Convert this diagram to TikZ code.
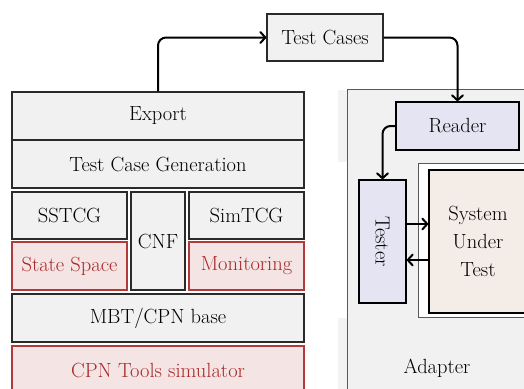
\documentclass[tikz,border=0pt]{standalone}
\usetikzlibrary{arrows.meta,positioning}
\definecolor{boxgray}{HTML}{F1F1F1}
\definecolor{boxline}{HTML}{2A2A2A}
\definecolor{redline}{HTML}{B23A3A}
\definecolor{redfill}{HTML}{F4E4E4}
\definecolor{redtext}{HTML}{A82828}
\definecolor{lav}{HTML}{E4E4F2}
\definecolor{sutfill}{HTML}{F4ECE6}
\definecolor{stripgray}{HTML}{F3F3F3}
\begin{document}
\begin{tikzpicture}[x=1pt,y=-1pt,
  font=\fontsize{20.5}{28}\selectfont,
  graybox/.style={draw=boxline,fill=boxgray,line width=1.3pt,rectangle,inner sep=0pt},
  redbox/.style={draw=redline,fill=redfill,text=redtext,line width=1.3pt,rectangle,inner sep=0pt},
  lavbox/.style={draw=black,fill=lav,line width=1.5pt,rectangle,inner sep=0pt},
  conn/.style={draw=black,line width=2pt,rounded corners=8pt,-{Straight Barb[length=5pt,width=11pt,round]}}
]
\useasboundingbox (0,0) rectangle (524,388);
% background strips
\fill[stripgray] (338,90) rectangle (347,162);
\fill[stripgray] (338,318) rectangle (347,392);
% Adapter
\node[draw=black!65,fill=boxgray,line width=0.8pt,minimum width=200pt,minimum height=320pt,inner sep=0pt] (adapter) at (447,249) {};
\node (adlabel) at (437,368) {Adapter};
% left stack
\node[graybox,minimum width=116pt,minimum height=47pt] (tc) at (325,37.5) {Test Cases};
\node[graybox,minimum width=292pt,minimum height=48pt] (export) at (158,116) {Export};
\node[graybox,minimum width=292pt,minimum height=48pt] (tcg) at (158,164) {Test Case Generation};
\node[graybox,minimum width=115pt,minimum height=47pt] (sstcg) at (69.5,215.5) {SSTCG};
\node[redbox,minimum width=115pt,minimum height=48pt] (ss) at (69.5,266) {State Space};
\node[graybox,minimum width=54pt,minimum height=98pt] (cnf) at (158,241) {CNF};
\node[graybox,minimum width=115pt,minimum height=47pt] (simtcg) at (246.5,215.5) {SimTCG};
\node[redbox,minimum width=115pt,minimum height=48pt] (mon) at (246.5,266) {Monitoring};
\node[graybox,minimum width=292pt,minimum height=48pt] (mbt) at (158,318) {MBT/CPN base};
\node[redbox,minimum width=292pt,minimum height=48pt] (cpn) at (158,370) {CPN Tools simulator};
% adapter contents
\node[lavbox,minimum width=123pt,minimum height=48pt] (reader) at (457.5,126) {Reader};
\node[lavbox,minimum width=47pt,minimum height=123pt] (tester) at (382.5,241.5) {};
\node[rotate=-90] (testertext) at (tester.center) {Tester};
\node[draw=black!65,fill=white,line width=0.8pt,minimum width=130pt,minimum height=154pt,inner sep=0pt] (sutouter) at (483,240) {};
\node[draw=black,fill=sutfill,line width=1.5pt,minimum width=98pt,minimum height=143pt,inner sep=0pt,align=center] (sut) at (478,241.5) {System\\Under\\Test};
% connectors
\draw[conn] (export.north) |- (tc.west);
\draw[conn] (tc.east) -| (reader.north);
\draw[conn] (reader.west) -| (tester.north);
\draw[conn,rounded corners=0pt] ([yshift=17.5pt]tester.east) -- ([yshift=17.5pt]tester.east -| sut.west);
\draw[conn,rounded corners=0pt] ([yshift=-18.5pt]sut.west) -- ([yshift=-18.5pt]sut.west -| tester.east);
\end{tikzpicture}
\end{document}
